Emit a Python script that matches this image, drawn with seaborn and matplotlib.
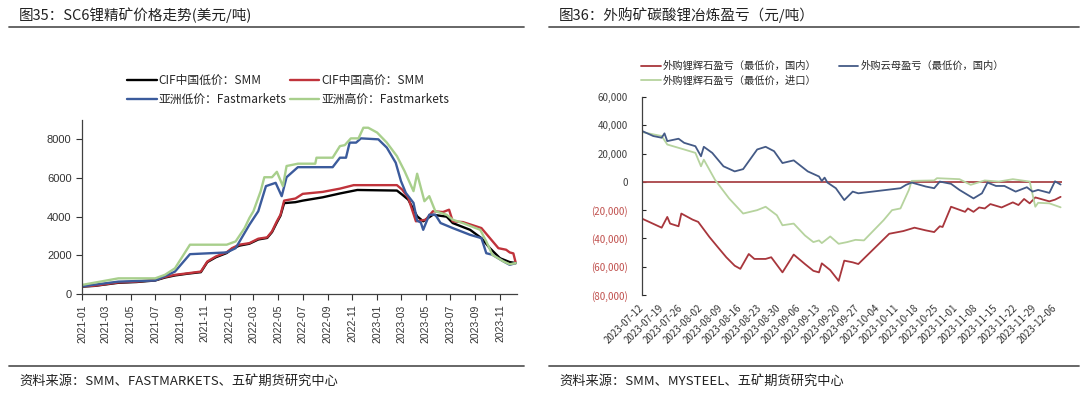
import matplotlib
matplotlib.use('Agg')
import matplotlib.pyplot as plt
import matplotlib.dates as mdates
from matplotlib.lines import Line2D
import seaborn as sns
import pandas as pd

sns.set_style('white')
plt.rcParams['font.family'] = ['Noto Sans CJK SC', 'DejaVu Sans']
plt.rcParams['axes.unicode_minus'] = False

# ---- 图35: SC6锂精矿价格 (美元/吨) ----
cif_low_dates = ['2021-01-01', '2021-02-01', '2021-04-01', '2021-05-16', '2021-07-01', '2021-07-25',
                 '2021-08-19', '2021-09-19', '2021-10-22', '2021-11-07', '2021-11-28', '2021-12-25',
                 '2022-01-07', '2022-01-25', '2022-02-19', '2022-03-13', '2022-04-04', '2022-04-16',
                 '2022-04-28', '2022-05-07', '2022-05-16', '2022-06-13', '2022-07-01', '2022-08-19',
                 '2022-10-01', '2022-11-13', '2023-02-19', '2023-03-04', '2023-03-19', '2023-04-10',
                 '2023-04-25', '2023-05-19', '2023-06-22', '2023-07-07', '2023-08-19', '2023-09-16',
                 '2023-10-07', '2023-11-01', '2023-11-25', '2023-12-10']
cif_low = [380, 420, 580, 620, 700, 850, 960, 1050, 1130, 1650, 1900, 2120,
           2330, 2500, 2600, 2820, 2900, 3200, 3700, 4050, 4700, 4750, 4830, 5000,
           5200, 5380, 5350, 5140, 4880, 4020, 3760, 4100, 4000, 3670, 3320, 2890,
           2370, 1850, 1650, 1600]

cif_high_dates = ['2021-01-01', '2021-02-01', '2021-04-01', '2021-05-16', '2021-07-01', '2021-07-25',
                  '2021-08-19', '2021-09-19', '2021-10-22', '2021-11-07', '2021-11-28', '2021-12-25',
                  '2022-01-07', '2022-01-25', '2022-02-19', '2022-03-13', '2022-04-04', '2022-04-16',
                  '2022-04-28', '2022-05-07', '2022-05-16', '2022-06-13', '2022-07-01', '2022-08-19',
                  '2022-10-01', '2022-11-04', '2023-02-19', '2023-03-04', '2023-03-19', '2023-04-07',
                  '2023-05-01', '2023-05-19', '2023-06-13', '2023-06-28', '2023-07-07', '2023-08-01',
                  '2023-08-22', '2023-09-16', '2023-10-07', '2023-10-28', '2023-11-16', '2023-11-25',
                  '2023-12-04', '2023-12-10']
cif_high = [400, 430, 600, 640, 720, 880, 990, 1070, 1160, 1680, 1940, 2160,
            2370, 2550, 2630, 2860, 2930, 3240, 3760, 4100, 4830, 4940, 5180, 5280,
            5450, 5630, 5630, 5400, 4970, 3760, 3840, 4280, 4240, 4360, 3760, 3720,
            3580, 3410, 2890, 2370, 2290, 2150, 2100, 1600]

asia_low_dates = ['2021-01-01', '2021-04-01', '2021-07-01', '2021-08-19', '2021-09-25', '2021-12-25',
                  '2022-01-16', '2022-02-19', '2022-03-13', '2022-04-01', '2022-04-25', '2022-05-10',
                  '2022-05-22', '2022-06-19', '2022-09-13', '2022-10-01', '2022-10-16', '2022-10-25',
                  '2022-11-10', '2022-11-22', '2023-01-04', '2023-01-25', '2023-02-16', '2023-03-01',
                  '2023-03-13', '2023-04-01', '2023-04-10', '2023-04-19', '2023-04-25', '2023-05-10',
                  '2023-05-25', '2023-06-07', '2023-07-07', '2023-08-19', '2023-09-16', '2023-09-28',
                  '2023-10-13', '2023-11-10', '2023-11-25', '2023-12-10']
asia_low = [400, 640, 700, 1160, 2060, 2150, 2370, 3580, 4280, 5580, 5750, 5060,
            6040, 6560, 6560, 7050, 7050, 7830, 7830, 8050, 8000, 7570, 6790, 5840,
            5230, 4710, 3790, 3700, 3320, 4100, 4100, 3670, 3410, 3060, 2890, 2110,
            2030, 1680, 1510, 1600]

asia_high_dates = ['2021-01-01', '2021-04-01', '2021-07-01', '2021-07-25', '2021-08-19', '2021-09-25',
                   '2021-12-25', '2022-01-16', '2022-02-07', '2022-02-19', '2022-03-01', '2022-03-19',
                   '2022-03-28', '2022-04-16', '2022-04-28', '2022-05-13', '2022-05-22', '2022-06-19',
                   '2022-08-01', '2022-08-04', '2022-09-13', '2022-10-01', '2022-10-13', '2022-10-28',
                   '2022-11-16', '2022-11-28', '2022-12-10', '2023-01-01', '2023-01-25', '2023-02-19',
                   '2023-03-10', '2023-04-01', '2023-04-10', '2023-04-28', '2023-05-10', '2023-05-25',
                   '2023-06-22', '2023-07-07', '2023-08-01', '2023-09-13', '2023-09-28', '2023-10-13',
                   '2023-11-10', '2023-11-25', '2023-12-10']
asia_high = [470, 810, 810, 990, 1330, 2550, 2550, 2720, 3400, 3930, 4280, 5320,
             6040, 6040, 6320, 5580, 6620, 6740, 6740, 7050, 7050, 7650, 7700, 8050,
             8050, 8600, 8600, 8350, 7830, 7130, 6350, 5320, 6220, 4800, 5060, 4280,
             4100, 3840, 3670, 3320, 2720, 2030, 1680, 1540, 1600]

left_names = ['CIF中国低价：SMM', 'CIF中国高价：SMM', '亚洲低价：Fastmarkets', '亚洲高价：Fastmarkets']
left_colors = ['#000000', '#c0333b', '#3b5b9c', '#a8cf8c']

# ---- 图36: 外购矿碳酸锂冶炼盈亏 (元/吨) ----
mica_dates = ['2023-07-12', '2023-07-16', '2023-07-19', '2023-07-20', '2023-07-21', '2023-07-25',
              '2023-07-27', '2023-07-31', '2023-08-02', '2023-08-03', '2023-08-06', '2023-08-10',
              '2023-08-14', '2023-08-17', '2023-08-22', '2023-08-25', '2023-08-28', '2023-08-31',
              '2023-09-04', '2023-09-09', '2023-09-13', '2023-09-14', '2023-09-15', '2023-09-16',
              '2023-09-19', '2023-09-22', '2023-09-25', '2023-09-27', '2023-10-12', '2023-10-14',
              '2023-10-16', '2023-10-21', '2023-10-24', '2023-10-26', '2023-10-30', '2023-11-02',
              '2023-11-07', '2023-11-10', '2023-11-12', '2023-11-15', '2023-11-18', '2023-11-22',
              '2023-11-26', '2023-11-28', '2023-11-30', '2023-12-04', '2023-12-06', '2023-12-08']
mica_pl = [36000, 32400, 31200, 34300, 28800, 30500, 27600, 25200, 18100, 24800, 20500, 11000,
           7400, 9000, 22900, 24800, 21700, 13300, 15200, 7400, 3800, 600, 3000, -500,
           -4500, -12900, -6900, -8100, -4500, -2100, -500, -3300, -4500, 200, -1400, -5700,
           -11700, -8100, -500, -2900, -2900, -6900, -3800, -6900, -5700, -7800, 400, -1900]

import_dates = ['2023-07-12', '2023-07-19', '2023-07-21', '2023-07-27', '2023-07-31', '2023-08-02',
                '2023-08-03', '2023-08-07', '2023-08-12', '2023-08-17', '2023-08-22', '2023-08-25',
                '2023-08-29', '2023-08-31', '2023-09-04', '2023-09-08', '2023-09-11', '2023-09-13',
                '2023-09-14', '2023-09-17', '2023-09-20', '2023-09-23', '2023-09-26', '2023-09-29',
                '2023-10-06', '2023-10-09', '2023-10-12', '2023-10-15', '2023-10-16', '2023-10-24',
                '2023-10-25', '2023-11-02', '2023-11-06', '2023-11-11', '2023-11-16', '2023-11-21',
                '2023-11-27', '2023-11-29', '2023-11-30', '2023-12-04', '2023-12-08']
import_pl = [35200, 32400, 26400, 22900, 20500, 11000, 15700, 1400, -11700, -22400, -20000, -17600,
             -23600, -30700, -29500, -37900, -42600, -41400, -43300, -38600, -43800, -42600, -41000, -41400,
             -27100, -20000, -18800, -5700, 700, 1000, 2600, 1900, -2100, 1000, 200, 1900,
             200, -17600, -14800, -15200, -18000]

spod_dates = ['2023-07-12', '2023-07-19', '2023-07-21', '2023-07-22', '2023-07-25', '2023-07-26',
              '2023-07-30', '2023-08-01', '2023-08-05', '2023-08-08', '2023-08-11', '2023-08-14',
              '2023-08-16', '2023-08-19', '2023-08-21', '2023-08-25', '2023-08-27', '2023-08-31',
              '2023-09-04', '2023-09-08', '2023-09-11', '2023-09-13', '2023-09-14', '2023-09-17',
              '2023-09-20', '2023-09-22', '2023-09-25', '2023-09-27', '2023-10-08', '2023-10-13',
              '2023-10-17', '2023-10-21', '2023-10-24', '2023-10-26', '2023-10-27', '2023-10-30',
              '2023-11-04', '2023-11-05', '2023-11-07', '2023-11-09', '2023-11-11', '2023-11-13',
              '2023-11-17', '2023-11-21', '2023-11-23', '2023-11-25', '2023-11-27', '2023-11-29',
              '2023-12-04', '2023-12-06', '2023-12-08']
spod_pl = [-26000, -32400, -24800, -29500, -31400, -22400, -26700, -28300, -39000, -46200, -53300, -59300,
           -61500, -51000, -54500, -54500, -53300, -64000, -51400, -58100, -62900, -64000, -57600, -62400,
           -70000, -55700, -56900, -58100, -36700, -34800, -32400, -34300, -35500, -31400, -31900, -17600,
           -21200, -18800, -21200, -18100, -18800, -15700, -18100, -14500, -16400, -12100, -15200, -11000,
           -13800, -12600, -10600]

right_names = ['外购锂辉石盈亏（最低价，国内）', '外购锂辉石盈亏（最低价，进口）', '外购云母盈亏（最低价，国内）']
right_colors = ['#a8363c', '#b6d39e', '#445a86']
zero_color = '#a94448'
week_ticks = pd.date_range('2023-07-12', '2023-12-06', freq='7D')


def series_frame(dates, values, name):
    return pd.DataFrame({'date': pd.to_datetime(dates), 'value': values, 'series': name})


left_df = pd.concat([
    series_frame(cif_low_dates, cif_low, left_names[0]),
    series_frame(cif_high_dates, cif_high, left_names[1]),
    series_frame(asia_low_dates, asia_low, left_names[2]),
    series_frame(asia_high_dates, asia_high, left_names[3]),
])
right_df = pd.concat([
    series_frame(spod_dates, spod_pl, right_names[0]),
    series_frame(import_dates, import_pl, right_names[1]),
    series_frame(mica_dates, mica_pl, right_names[2]),
])

W, H = 1080, 396


def px_box(l, t, r, b):
    return [l / W, 1 - b / H, (r - l) / W, (b - t) / H]


fig = plt.figure(figsize=(10.8, 3.96), dpi=100)

# left chart
ax1 = fig.add_axes(px_box(82, 120, 517, 294))
sns.lineplot(data=left_df, x='date', y='value', hue='series', hue_order=left_names,
             palette=left_colors, linewidth=1.7, ax=ax1, legend=False)
ax1.set_xlim(pd.Timestamp('2021-01-01'), pd.Timestamp('2023-12-13'))
ax1.set_ylim(0, 9000)
ax1.set_yticks(range(0, 8001, 2000))
ax1.xaxis.set_major_locator(mdates.MonthLocator(bymonth=[1, 3, 5, 7, 9, 11]))
ax1.xaxis.set_major_formatter(mdates.DateFormatter('%Y-%m'))
ax1.tick_params(axis='both', direction='out', length=4, width=0.8, colors='#333333',
                labelsize=7.5, bottom=True, left=True)
plt.setp(ax1.get_xticklabels(), rotation=90, family='Liberation Sans')
plt.setp(ax1.get_yticklabels(), family='Liberation Sans', fontsize=8)
ax1.set_xlabel('')
ax1.set_ylabel('')
for s in ['top', 'right']:
    ax1.spines[s].set_visible(False)
for s in ['left', 'bottom']:
    ax1.spines[s].set_color('#404040')
    ax1.spines[s].set_linewidth(0.9)

# right chart
ax2 = fig.add_axes(px_box(642, 97, 1062, 295))
ax2.axhline(0, color=zero_color, lw=1.3, zorder=1)
sns.lineplot(data=right_df, x='date', y='value', hue='series', hue_order=right_names,
             palette=right_colors, linewidth=1.3, ax=ax2, legend=False)
ax2.set_xlim(pd.Timestamp('2023-07-12'), pd.Timestamp('2023-12-08 12:00'))
ax2.set_ylim(-80000, 60000)
ax2.set_xticks(week_ticks)
ax2.set_xticklabels([d.strftime('%Y-%m-%d') for d in week_ticks], rotation=45,
                    ha='right', va='center', rotation_mode='anchor', fontsize=7)
yt = list(range(-80000, 60001, 20000))
ax2.set_yticks(yt)
ax2.set_yticklabels([f'{v:,}' if v >= 0 else f'({-v:,})' for v in yt], fontsize=7)
for lab, v in zip(ax2.get_yticklabels(), yt):
    lab.set_color('#c0504d' if v < 0 else '#404040')
ax2.tick_params(axis='x', length=0, pad=8, colors='#333333')
ax2.tick_params(axis='y', direction='in', length=3, width=0.8, left=True, pad=10)
ax2.set_xlabel('')
ax2.set_ylabel('')
for s in ['top', 'right', 'bottom']:
    ax2.spines[s].set_visible(False)
ax2.spines['left'].set_color('#404040')
ax2.spines['left'].set_linewidth(0.9)

# legends
h_left = [Line2D([], [], color=c, lw=1.7) for c in left_colors]
fig.legend([h_left[0], h_left[2], h_left[1], h_left[3]],
           [left_names[0], left_names[2], left_names[1], left_names[3]],
           ncol=2, loc='center left', bbox_to_anchor=(127 / W, 1 - 90 / H), frameon=False,
           fontsize=8.5, handlelength=2.5, handletextpad=0.15, columnspacing=0.3,
           labelspacing=0.45, borderpad=0, borderaxespad=0)
h_right = [Line2D([], [], color=c, lw=1.3) for c in right_colors]
fig.legend(h_right, right_names, ncol=2, loc='center left',
           bbox_to_anchor=(641 / W, 1 - 73.5 / H), frameon=False, fontsize=7.4,
           handlelength=1.9, handletextpad=0.2, columnspacing=2.2, labelspacing=0.45,
           borderpad=0, borderaxespad=0)

# titles, separators, sources
line_kw = dict(color='#5a5a5a', lw=1.3)
fig.add_artist(Line2D([9 / W, 524 / W], [1 - 27 / H] * 2, **line_kw))
fig.add_artist(Line2D([549 / W, 1079 / W], [1 - 27 / H] * 2, **line_kw))
fig.add_artist(Line2D([9 / W, 524 / W], [1 - 366 / H] * 2, **line_kw))
fig.add_artist(Line2D([549 / W, 1079 / W], [1 - 366 / H] * 2, **line_kw))
fig.text(19 / W, 1 - 15 / H, '图35：SC6锂精矿价格走势(美元/吨)', fontsize=10.5, va='center', color='#222222')
fig.text(559 / W, 1 - 15 / H, '图36：外购矿碳酸锂冶炼盈亏（元/吨）', fontsize=10.5, va='center', color='#222222')
fig.text(19 / W, 1 - 381 / H, '资料来源：SMM、FASTMARKETS、五矿期货研究中心', fontsize=9.5, va='center', color='#222222')
fig.text(559 / W, 1 - 381 / H, '资料来源：SMM、MYSTEEL、五矿期货研究中心', fontsize=9.5, va='center', color='#222222')

fig.savefig('out.png', dpi=100)
